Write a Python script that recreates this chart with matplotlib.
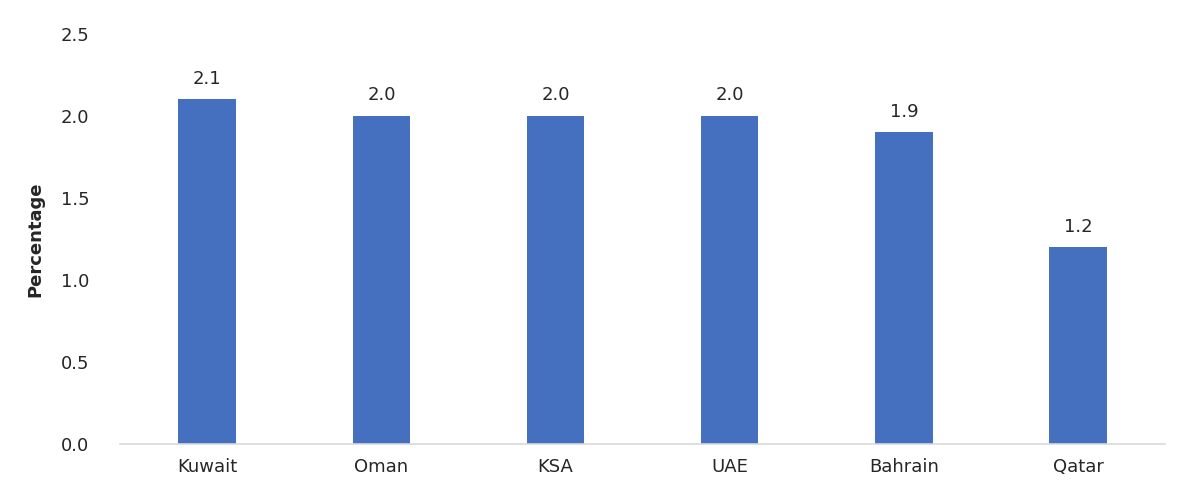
import numpy as np
import matplotlib.pyplot as plt

# GCC countries, percentage values
countries = ['Kuwait', 'Oman', 'KSA', 'UAE', 'Bahrain', 'Qatar']
values = [2.1, 2.0, 2.0, 2.0, 1.9, 1.2]
yticks = [0.0, 0.5, 1.0, 1.5, 2.0, 2.5]

plt.rcParams['font.family'] = ['DejaVu Sans']
txt = '#262626'

fig = plt.figure(figsize=(11.78, 4.97), dpi=100)
ax = fig.add_axes([0.102, 0.107, 0.887, 0.825])

x = np.arange(len(countries))
bars = ax.bar(x, values, width=0.33, color='#4570C0')

for b, v in zip(bars, values):
    ax.text(b.get_x() + b.get_width() / 2, v + 0.07, f'{v:.1f}',
            ha='center', va='bottom', fontsize=13, color=txt)

ax.set_xlim(-0.5, len(countries) - 0.5)
ax.set_ylim(0, 2.5)
ax.set_yticks(yticks)
ax.set_yticklabels([f'{t:.1f}' for t in yticks])
ax.set_xticks(x)
ax.set_xticklabels(countries)
ax.tick_params(axis='both', length=0, labelsize=13, colors=txt)
ax.tick_params(axis='y', pad=22)
ax.tick_params(axis='x', pad=10)
ax.set_ylabel('Percentage', fontsize=13, fontweight='bold', color=txt, labelpad=12)

for s in ['top', 'right', 'left']:
    ax.spines[s].set_visible(False)
ax.spines['bottom'].set_color('#D9D9D9')
ax.spines['bottom'].set_linewidth(1.2)

fig.savefig('out.png', dpi=100)
